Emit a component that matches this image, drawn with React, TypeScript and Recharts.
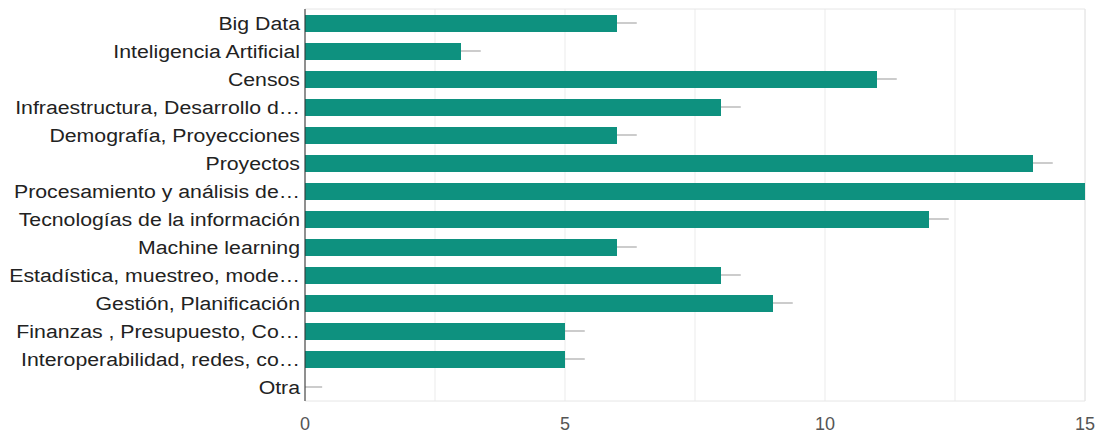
import React from 'react';
import { BarChart, Bar, XAxis, YAxis, CartesianGrid, ReferenceArea, ReferenceLine } from 'recharts';

const categories = [
  'Big Data',
  'Inteligencia Artificial',
  'Censos',
  'Infraestructura, Desarrollo d…',
  'Demografía, Proyecciones',
  'Proyectos',
  'Procesamiento y análisis de…',
  'Tecnologías de la información',
  'Machine learning',
  'Estadística, muestreo, mode…',
  'Gestión, Planificación',
  'Finanzas , Presupuesto, Co…',
  'Interoperabilidad, redes, co…',
  'Otra',
];
const counts = [6, 3, 11, 8, 6, 14, 15, 12, 6, 8, 9, 5, 5, 0];
const whiskers = [0.38, 0.38, 0.38, 0.38, 0.38, 0.38, 0, 0.38, 0.38, 0.38, 0.38, 0.38, 0.38, 0.33];
const xTicks = [0, 2.5, 5, 7.5, 10, 12.5, 15];

const data = categories.map((name, i) => ({
  name,
  value: counts[i],
}));

const FONT = '"Liberation Sans", Arial, sans-serif';

const YTick = (props: any) => {
  const { x, y, payload } = props;
  return (
    <g transform={`translate(${x},${y}) scale(1.12,1)`}>
      <text x={0} y={0} dy="0.355em" textAnchor="end" fontSize={19} fill="#222" fontFamily={FONT}>
        {payload.value}
      </text>
    </g>
  );
};

export default function App() {
  return (
    <div style={{ position: 'fixed', left: 0, top: 0, background: '#fff' }}>
      <BarChart
        width={1101}
        height={436}
        data={data}
        layout="vertical"
        margin={{ top: 9, right: 16, bottom: 0, left: 0 }}
        barSize={17}
      >
        <CartesianGrid horizontal={false} stroke="#ebebeb" />
        <ReferenceArea x1={0} x2={15} fill="none" stroke="#e6e6e6" ifOverflow="visible" />
        <XAxis
          type="number"
          domain={[0, 15]}
          ticks={xTicks}
          tickFormatter={(v: number) => (Number.isInteger(v) ? String(v) : '')}
          axisLine={false}
          tickLine={false}
          tickSize={0}
          tickMargin={16}
          height={35}
          tick={{ fontSize: 18, fill: '#555', fontFamily: FONT }}
          interval={0}
        />
        <YAxis
          type="category"
          dataKey="name"
          width={305}
          tickLine={false}
          tickSize={0}
          tickMargin={5}
          axisLine={{ stroke: '#333', strokeWidth: 1 }}
          tick={<YTick />}
          interval={0}
        />
        <Bar dataKey="value" fill="#0e917f" isAnimationActive={false} />
        {categories.map((c, i) =>
          whiskers[i] > 0 ? (
            <ReferenceLine
              key={c}
              segment={[
                { x: counts[i], y: c },
                { x: counts[i] + whiskers[i], y: c },
              ]}
              stroke="#999"
              strokeWidth={1}
              ifOverflow="visible"
            />
          ) : null
        )}
      </BarChart>
    </div>
  );
}
